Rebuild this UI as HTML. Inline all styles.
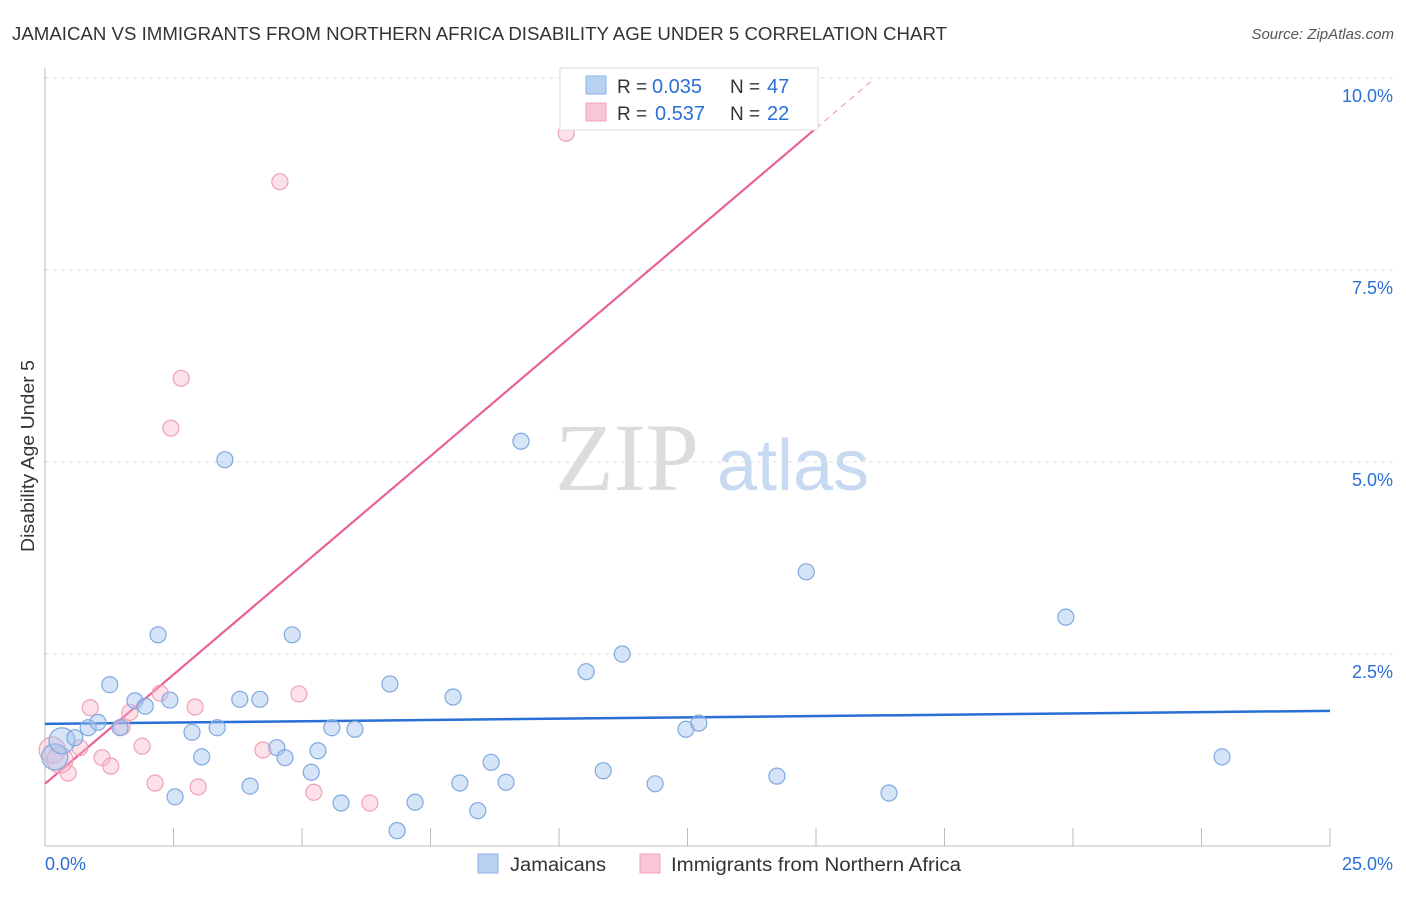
<!DOCTYPE html>
<html><head><meta charset="utf-8"><style>
body{margin:0;background:#fff;font-family:"Liberation Sans",sans-serif;}
</style></head><body>
<svg width="1406" height="892" viewBox="0 0 1406 892" xmlns="http://www.w3.org/2000/svg" font-family="Liberation Sans, sans-serif">
<text x="12" y="40" font-size="18" fill="#333" textLength="935" lengthAdjust="spacingAndGlyphs">JAMAICAN VS IMMIGRANTS FROM NORTHERN AFRICA DISABILITY AGE UNDER 5 CORRELATION CHART</text>
<text x="1394" y="39" font-size="15" fill="#555" text-anchor="end" font-style="italic">Source: ZipAtlas.com</text>
<g>
<text x="555" y="490" font-size="96" fill="#dcdcdc" font-family="Liberation Serif, serif">ZIP</text>
<text x="717" y="490" font-size="72" fill="#c8d9f2">atlas</text>
</g>
<g id="grid"></g>
<g id="axes"></g>
<text transform="translate(34,456) rotate(-90)" font-size="18" fill="#333" text-anchor="middle" textLength="192" lengthAdjust="spacingAndGlyphs">Disability Age Under 5</text>
<g id="lines"></g>
<g id="points"></g>
<g>
<rect x="560" y="68" width="258" height="62" fill="#fff" stroke="#ddd"/>
<rect x="586" y="76" width="20" height="18" fill="#b8d2f4" stroke="#8fb3e6"/>
<text x="617" y="93" font-size="19" fill="#333">R =</text>
<text x="652" y="93" font-size="20" fill="#2a6fd6">0.035</text>
<text x="730" y="93" font-size="19" fill="#333">N =</text>
<text x="767" y="93" font-size="20" fill="#2a6fd6">47</text>
<rect x="586" y="103" width="20" height="18" fill="#f9c6d5" stroke="#f0a0b8"/>
<text x="617" y="120" font-size="19" fill="#333">R =</text>
<text x="655" y="120" font-size="20" fill="#2a6fd6">0.537</text>
<text x="730" y="120" font-size="19" fill="#333">N =</text>
<text x="767" y="120" font-size="20" fill="#2a6fd6">22</text>
</g>
<g>
<rect x="478" y="854" width="20" height="19" fill="#b8d2f4" stroke="#8fb3e6"/>
<text x="510" y="871" font-size="19" fill="#333" textLength="96" lengthAdjust="spacingAndGlyphs">Jamaicans</text>
<rect x="640" y="854" width="20" height="19" fill="#f9c6d5" stroke="#f0a0b8"/>
<text x="671" y="871" font-size="19" fill="#333" textLength="290" lengthAdjust="spacingAndGlyphs">Immigrants from Northern Africa</text>
</g>
</svg>
<script>
const blueX=[0.19,0.33,0.58,0.84,1.03,1.26,1.46,1.75,1.95,2.20,2.43,2.53,2.86,3.05,3.35,3.50,3.79,3.99,4.18,4.51,4.67,4.81,5.18,5.31,5.58,5.76,6.03,6.71,6.85,7.20,7.94,8.07,8.42,8.68,8.97,9.26,10.53,10.86,11.23,11.87,12.47,12.72,14.24,14.81,16.42,19.86,22.90];
const blueY=[1.16,1.37,1.41,1.54,1.61,2.10,1.54,1.89,1.82,2.75,1.90,0.64,1.48,1.16,1.54,5.03,1.91,0.78,1.91,1.28,1.15,2.75,0.96,1.24,1.54,0.56,1.52,2.11,0.20,0.57,1.94,0.82,0.46,1.09,0.83,5.27,2.27,0.98,2.50,0.81,1.52,1.60,0.91,3.57,0.69,2.98,1.16];
const pinkX=[0.14,0.29,0.45,0.68,0.88,1.11,1.28,1.50,1.65,1.89,2.14,2.24,2.45,2.65,2.92,2.98,4.24,4.57,4.94,5.23,6.32,10.14];
const pinkY=[1.25,1.12,0.95,1.28,1.80,1.15,1.04,1.55,1.74,1.30,0.82,1.99,5.44,6.09,1.81,0.77,1.25,8.65,1.98,0.70,0.56,9.28];
const blueLine=[1.59,1.76];
const pinkLine=[0.81,0.569];
const yTicks=[2.5,5.0,7.5,10.0];
const xTickVals=[2.5,5,7.5,10,12.5,15,17.5,20,22.5,25];
const NS="http://www.w3.org/2000/svg";
const X=v=>45+v*51.4, Y=v=>846-v*76.8;
function mk(tag,attrs,parent){const e=document.createElementNS(NS,tag);for(const k in attrs)e.setAttribute(k,attrs[k]);parent.appendChild(e);return e;}
const grid=document.getElementById('grid'),axes=document.getElementById('axes');
yTicks.forEach(t=>{
 const l=mk('line',{x1:45,x2:1395,y1:Y(t),y2:Y(t),stroke:'#ddd','stroke-dasharray':'4,4'},grid);
 
 
 const tx=mk('text',{x:1393,y:Y(t)+24,'font-size':18,fill:'#2a6fd6','text-anchor':'end'},axes);
 tx.textContent=t.toFixed(1)+'%';
 
 
});
mk('line',{x1:45,x2:45,y1:68,y2:846,stroke:'#bbb'},axes);
mk('line',{x1:45,x2:1330,y1:846,y2:846,stroke:'#bbb'},axes);
xTickVals.forEach(t=>{
 const l=mk('line',{x1:X(t),x2:X(t),y1:828,y2:846,stroke:'#bbb'},axes);
 
 
});
let t0=mk('text',{x:45,y:870,'font-size':18,fill:'#2a6fd6'},axes);t0.textContent='0.0%';


let t1=mk('text',{x:1393,y:870,'font-size':18,fill:'#2a6fd6','text-anchor':'end'},axes);t1.textContent='25.0%';


const pts=document.getElementById('points'),lines=document.getElementById('lines');
function dots(xs,ys,fill,stroke,name){xs.forEach((x,i)=>{
 const c=mk('circle',{cx:X(x),cy:Y(ys[i]),r:i<2?13:8,fill:fill,stroke:stroke,'stroke-width':1.2},pts);
 
 
});}
dots(pinkX,pinkY,'rgba(248,180,200,0.4)','#f0a0b8','pink-point');
dots(blueX,blueY,'rgba(164,196,240,0.45)','#7fa8e0','blue-point');
const bl=mk('line',{x1:X(0),y1:Y(blueLine[0]),x2:X(25),y2:Y(blueLine[1]),stroke:'#2a6fd6','stroke-width':2.5},lines);


const xe=15, xd=(9.95-pinkLine[0])/pinkLine[1];
const pl=mk('line',{x1:X(0),y1:Y(pinkLine[0]),x2:X(xe),y2:Y(pinkLine[0]+pinkLine[1]*xe),stroke:'#e8609a','stroke-width':2.2},lines);


const pd=mk('line',{x1:X(xe),y1:Y(pinkLine[0]+pinkLine[1]*xe),x2:X(xd),y2:Y(9.95),stroke:'#f0a0b8','stroke-width':1.2,'stroke-dasharray':'6,5'},lines);


</script>
</body></html>
